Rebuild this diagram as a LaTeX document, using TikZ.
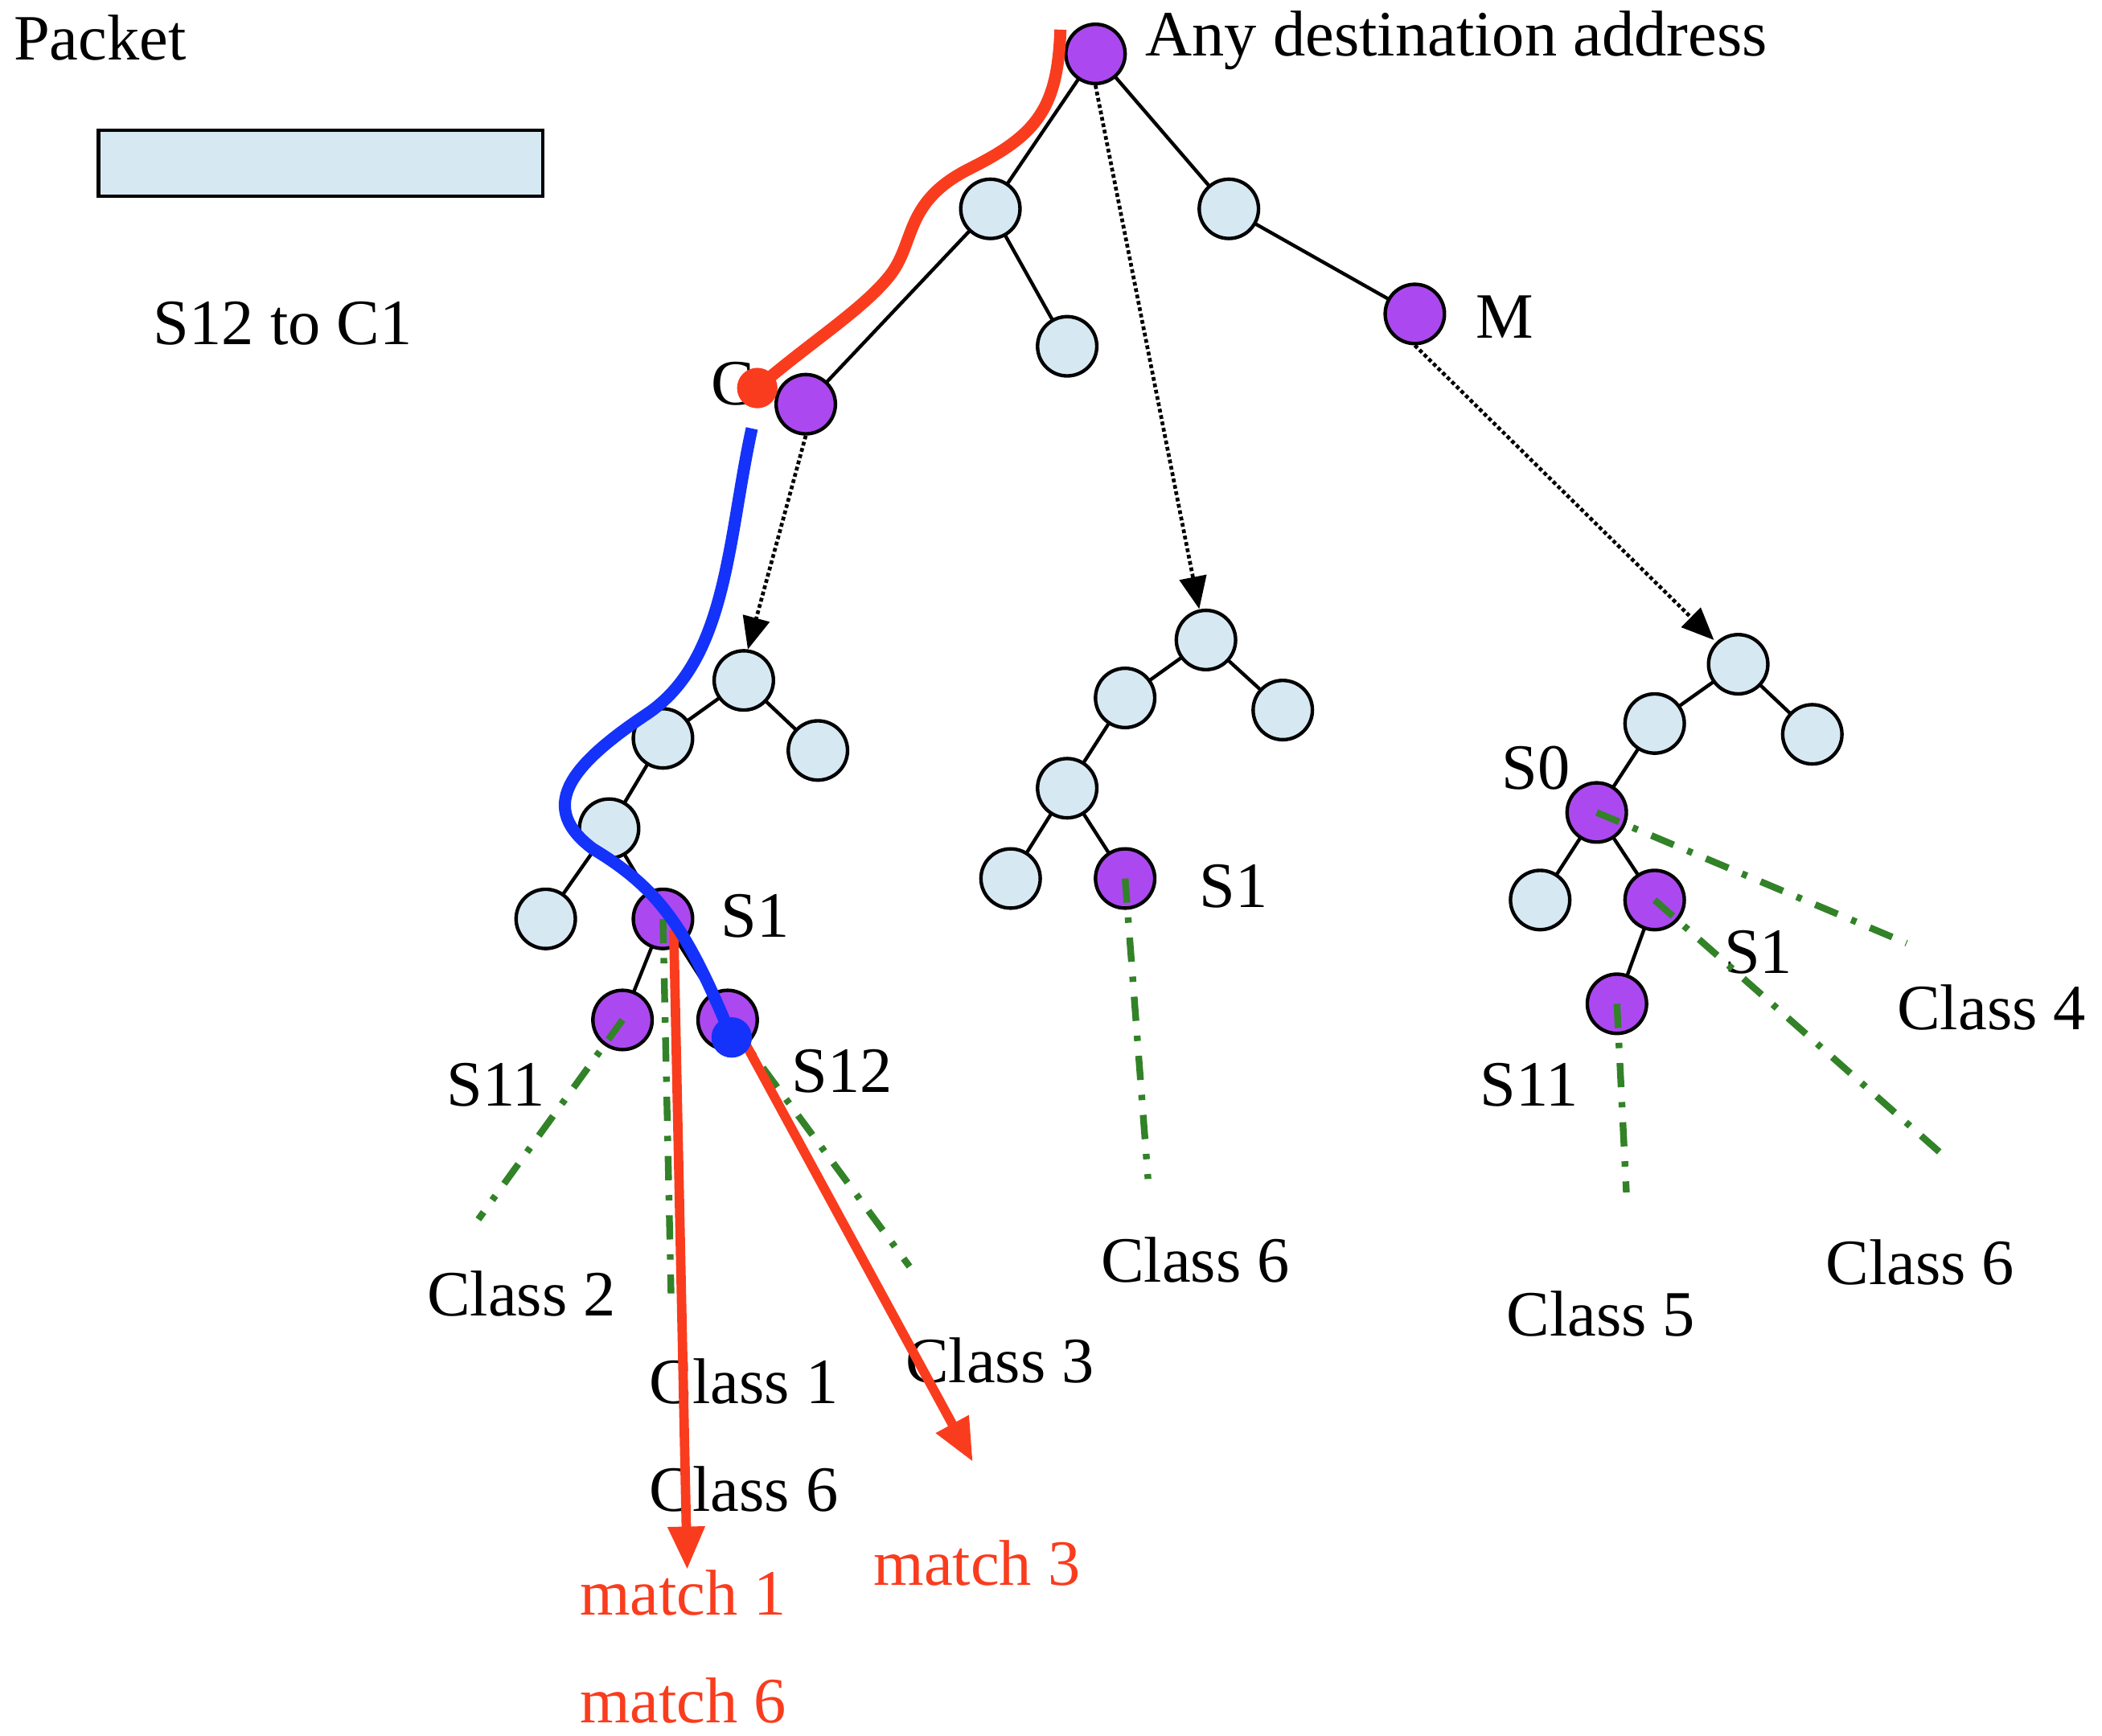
\documentclass[tikz,border=0pt]{standalone}
\usepackage{fontspec}
\setmainfont{Liberation Serif}
\usetikzlibrary{arrows.meta}
\definecolor{lb}{RGB}{214,232,242}
\definecolor{pu}{RGB}{172,72,240}
\definecolor{gr}{RGB}{50,130,40}
\definecolor{rd}{RGB}{250,60,30}
\definecolor{bl}{RGB}{20,50,250}
\begin{document}
\begin{tikzpicture}[x=1pt,y=-1pt,
 n/.style={circle,draw=black,line width=2.6pt,fill=lb,minimum size=44pt,inner sep=0pt},
 p/.style={n,fill=pu},
 e/.style={line width=2.6pt},
 dt/.style={line width=2.8pt,dotted,-{Triangle[length=24pt,width=20pt]}},
 g/.style={line width=5pt,gr,dash pattern=on 18pt off 11pt on 4pt off 11pt},
 t/.style={font=\fontsize{48}{54}\selectfont,inner sep=0pt},
 rt/.style={t,text=rd},
 ra/.style={line width=7pt,rd,-{Triangle[length=32pt,width=26pt]}}]
\useasboundingbox (0,0) rectangle (1560,1288);
% packet
\node[t,anchor=west] (pk) at (10,28) {Packet};
\node[draw=black,line width=2.6pt,fill=lb,minimum width=330pt,minimum height=49pt,inner sep=0pt] (box) at (238,121) {};
\node[t] (s12c1) at (210,240) {S12 to C1};
% top tree
\coordinate (R) at (813,40);
\coordinate (A) at (735,155); \coordinate (B) at (912,155);
\coordinate (C) at (598,300); \coordinate (A2) at (792,257);
\coordinate (M) at (1050,233);
\draw[e] (R)--(A) (R)--(B) (A)--(C) (A)--(A2) (B)--(M);
\node[t,anchor=east] (Clab) at (560,285) {C};
% tree 1
\coordinate (T1) at (552,505); \coordinate (T1a) at (492,548); \coordinate (T1b) at (607,557);
\coordinate (T1c) at (452,615); \coordinate (T1d) at (405,682); \coordinate (S1a) at (492,682);
\coordinate (S11a) at (462,757); \coordinate (S12a) at (540,757);
\draw[e] (T1)--(T1a) (T1)--(T1b) (T1a)--(T1c) (T1c)--(T1d) (T1c)--(S1a) (S1a)--(S11a) (S1a)--(S12a);
% tree 2
\coordinate (T2) at (895,475); \coordinate (T2a) at (835,518); \coordinate (T2b) at (952,527);
\coordinate (T2c) at (792,585); \coordinate (T2d) at (750,652); \coordinate (S1b) at (835,652);
\draw[e] (T2)--(T2a) (T2)--(T2b) (T2a)--(T2c) (T2c)--(T2d) (T2c)--(S1b);
% tree 3
\coordinate (T3) at (1290,493); \coordinate (T3a) at (1228,537); \coordinate (T3b) at (1345,545);
\coordinate (S0) at (1185,603); \coordinate (T3c) at (1143,668); \coordinate (S1c) at (1228,668);
\coordinate (S11c) at (1200,745);
\draw[e] (T3)--(T3a) (T3)--(T3b) (T3a)--(S0) (S0)--(T3c) (S0)--(S1c) (S1c)--(S11c);
% nodes
\node[p] (nR) at (R) {};
\foreach \c in {A,B,A2,T1,T1a,T1b,T1c,T1d,T2,T2a,T2b,T2c,T2d,T3,T3a,T3b,T3c} \node[n] (n\c) at (\c) {};
\foreach \c in {C,M,S1a,S11a,S12a,S1b,S0,S1c,S11c} \node[p] (n\c) at (\c) {};
% dotted arrows
\coordinate (d1) at (890,452); \coordinate (d2) at (555,482); \coordinate (d3) at (1272,475);
\draw[dt] (nR.south)--(d1);
\draw[dt] (nC.south)--(d2);
\draw[dt] (nM.south)--(d3);
% labels
\node[t,anchor=west] (lR) at (850,30) {Any destination address};
\node[t,anchor=west] (lM) at (1095,235) {M};
\node[t,anchor=west] (l1) at (535,680) {S1};
\node[t] (l2) at (368,805) {S11};
\node[t] (l3) at (625,795) {S12};
\node[t,anchor=west] (l4) at (890,658) {S1};
\node[t] (l5) at (1140,570) {S0};
\node[t] (l6) at (1305,707) {S1};
\node[t] (l7) at (1135,805) {S11};
% green
\coordinate (g1) at (355,905); \coordinate (g2) at (498,960); \coordinate (g3) at (675,940);
\coordinate (g4) at (852,875); \coordinate (g5) at (1415,700); \coordinate (g6) at (1445,860); \coordinate (g7) at (1207,885);
\draw[g] (S11a)--(g1); \draw[g] (S1a)--(g2); \draw[g] (S12a)--(g3);
\draw[g] (S1b)--(g4); \draw[g] (S0)--(g5); \draw[g] (S1c)--(g6); \draw[g] (S11c)--(g7);
\node[t] (c2) at (387,960) {Class 2};
\node[t] (c1) at (552,1025) {Class 1};
\node[t] (c6a) at (552,1105) {Class 6};
\node[t] (c3) at (742,1010) {Class 3};
\node[t] (c6b) at (887,935) {Class 6};
\node[t] (c4) at (1478,748) {Class 4};
\node[t] (c6c) at (1425,937) {Class 6};
\node[t] (c5) at (1188,975) {Class 5};
% red arrows
\coordinate (r1s) at (500,690); \coordinate (r1e) at (510,1165);
\coordinate (r2s) at (548,765); \coordinate (r2e) at (722,1085);
\draw[ra] (r1s)--(r1e);
\draw[ra] (r2s)--(r2e);
\node[rt] (m1) at (507,1182) {match 1};
\node[rt] (m6) at (507,1262) {match 6};
\node[rt] (m3) at (725,1160) {match 3};
% red path
\coordinate (rs) at (787,22); \coordinate (re) at (562,288);
\draw[rd,line width=9pt] (rs) .. controls (785,80) and (770,100) .. (720,125) .. controls (670,150) and (680,180) .. (660,205) .. controls (640,230) and (600,255) .. (re);
\fill[rd] (re) circle (15pt);
% blue path
\coordinate (bs) at (558,318); \coordinate (be) at (543,770);
\draw[bl,line width=9pt] (bs) .. controls (540,400) and (540,490) .. (480,530) .. controls (420,570) and (400,600) .. (440,630) .. controls (490,660) and (510,690) .. (be);
\fill[bl] (be) circle (15pt);
\end{tikzpicture}
\end{document}
